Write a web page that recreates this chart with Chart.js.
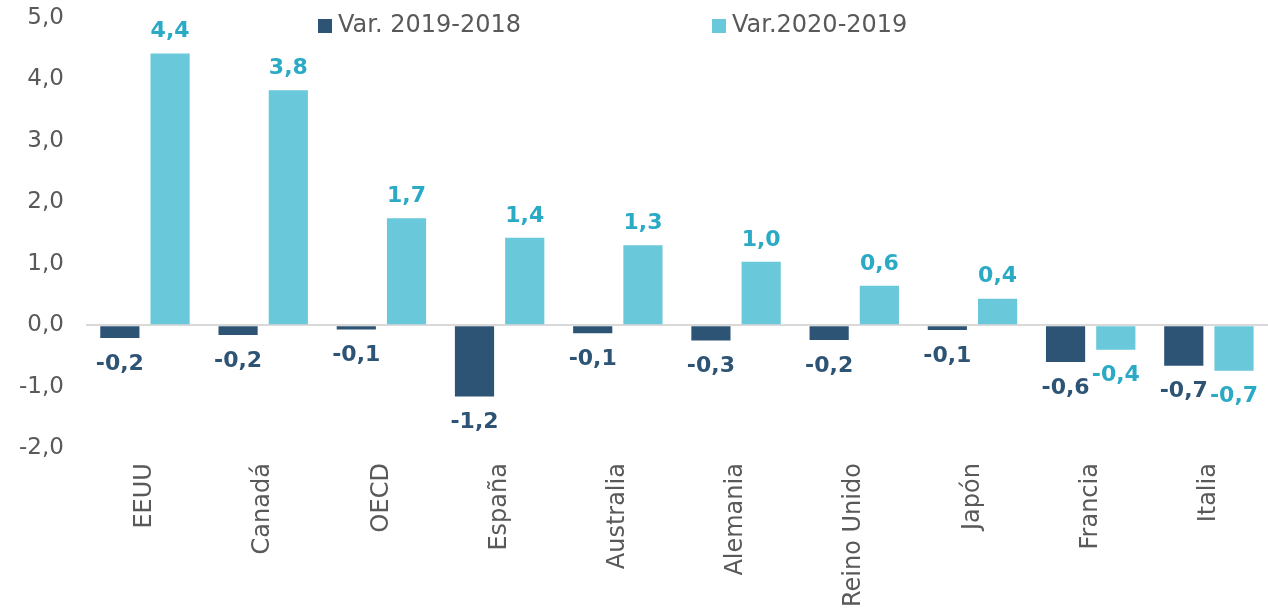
<!DOCTYPE html>
<html><head><meta charset="utf-8">
<script src="https://cdn.jsdelivr.net/npm/chart.js@4.4.1/dist/chart.umd.min.js"></script>
<style>html,body{margin:0;padding:0;background:#fff}#wrap{width:1268px;height:611px}</style>
</head><body><div id="wrap"><canvas id="c" width="1268" height="611"></canvas></div>
<script>
const categories = ['EEUU','Canadá','OECD','España','Australia','Alemania','Reino Unido','Japón','Francia','Italia'];
const var2019_2018 = [-0.21,-0.16,-0.07,-1.16,-0.13,-0.25,-0.24,-0.08,-0.60,-0.66];
const var2020_2019 = [4.42,3.82,1.74,1.42,1.30,1.03,0.64,0.43,-0.40,-0.74];
const seriesNames = ['Var. 2019-2018','Var.2020-2019'];
const yTicks = [-2,-1,0,1,2,3,4,5];

const barColors = ['#2E5475','#69C8DA'];
const labelColors = ['#2E5475','#2AAAC4'];
const FONT = '"DejaVu Sans", Verdana, sans-serif';
const fmt = v => v.toFixed(1).replace('.', ',');

const labelPlugin = {
  id: 'barLabels',
  afterDatasetsDraw(chart) {
    const ctx = chart.ctx;
    ctx.save();
    ctx.font = 'bold 22px ' + FONT;
    ctx.textAlign = 'center';
    ctx.textBaseline = 'middle';
    chart.data.datasets.forEach((ds, di) => {
      const meta = chart.getDatasetMeta(di);
      meta.data.forEach((bar, i) => {
        const v = ds.data[i];
        ctx.fillStyle = labelColors[di];
        const y = v >= 0 ? bar.y - 22 : bar.y + 26;
        ctx.fillText(fmt(v), bar.x, y);
      });
    });
    ctx.restore();
  }
};

const legendPlugin = {
  id: 'customLegend',
  afterDraw(chart) {
    const ctx = chart.ctx;
    ctx.save();
    ctx.font = '24px ' + FONT;
    ctx.textBaseline = 'middle';
    const starts = [318, 712];
    chart.data.datasets.forEach((ds, di) => {
      const x = starts[di];
      ctx.fillStyle = ds.backgroundColor;
      ctx.fillRect(x, 19, 14, 14);
      ctx.fillStyle = '#595959';
      ctx.fillText(ds.label, x + 20, 26);
    });
    ctx.restore();
  }
};

new Chart(document.getElementById('c'), {
  type: 'bar',
  data: {
    labels: categories,
    datasets: [
      { label: seriesNames[0], data: var2019_2018, backgroundColor: barColors[0], categoryPercentage: 0.85, barPercentage: 0.78 },
      { label: seriesNames[1], data: var2020_2019, backgroundColor: barColors[1], categoryPercentage: 0.85, barPercentage: 0.78 }
    ]
  },
  options: {
    responsive: false,
    animation: false,
    layout: { padding: { top: 1, right: 0, bottom: -11, left: 15 } },
    plugins: { legend: { display: false }, tooltip: { enabled: false } },
    scales: {
      x: {
        grid: { display: false, drawTicks: false },
        border: { display: false },
        ticks: { color: '#595959', font: { family: FONT, size: 24 }, maxRotation: 90, minRotation: 90, padding: 15 }
      },
      y: {
        min: -2, max: 5,
        afterBuildTicks: axis => { axis.ticks = yTicks.map(v => ({ value: v })); },
        grid: { drawTicks: true, tickLength: 18, tickColor: 'rgba(0,0,0,0)', lineWidth: 2, color: c => c.tick && c.tick.value === 0 ? '#D9D9D9' : 'rgba(0,0,0,0)' },
        border: { display: false },
        ticks: { color: '#595959', font: { family: FONT, size: 23 }, padding: 4, callback: v => fmt(v) }
      }
    }
  },
  plugins: [labelPlugin, legendPlugin]
});
</script></body></html>
